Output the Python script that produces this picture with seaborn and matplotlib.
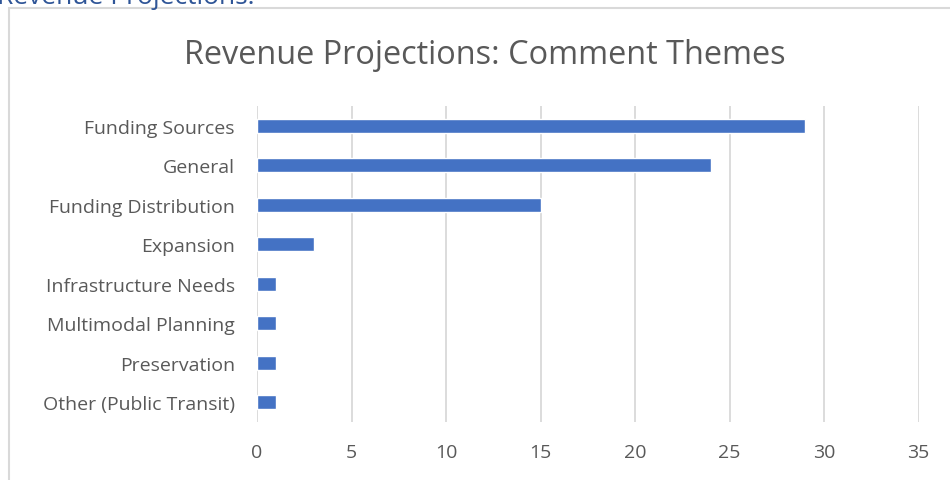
import matplotlib
matplotlib.use('Agg')
import matplotlib.pyplot as plt
import matplotlib.patches as mpatches
import pandas as pd
import seaborn as sns

# ===== Data =====
themes = ['Funding Sources', 'General', 'Funding Distribution', 'Expansion',
          'Infrastructure Needs', 'Multimodal Planning', 'Preservation',
          'Other (Public Transit)']
counts = [29, 24, 15, 3, 1, 1, 1, 1]
x_ticks = [0, 5, 10, 15, 20, 25, 30, 35]

df = pd.DataFrame({'theme': themes, 'count': counts})

sns.set_style('white')
plt.rcParams['font.family'] = ['Open Sans', 'DejaVu Sans']

fig = plt.figure(figsize=(9.5, 4.81), dpi=100)
ax = fig.add_axes([0.2705, 0.1206, 0.6965, 0.6569])

sns.barplot(data=df, x='count', y='theme', orient='h', color='#4472C4',
            width=0.36, saturation=1, ax=ax)

ax.set_xlim(0, 35)
ax.set_ylim(7.5, -0.5)
ax.set_xticks(x_ticks)
ax.xaxis.grid(True, color='#D9D9D9', linewidth=1.3)
ax.set_axisbelow(True)
for s in ax.spines.values():
    s.set_visible(False)
ax.tick_params(axis='both', length=0, colors='#595959', labelsize=14)
ax.tick_params(axis='x', pad=15)
ax.tick_params(axis='y', pad=16)
ax.set_xlabel('')
ax.set_ylabel('')

fig.text(0.51, 0.884, 'Revenue Projections: Comment Themes', ha='center',
         va='center', fontsize=23.4, color='#595959')

# clipped heading above the chart box
fig.text(-0.003, 1 - 4 / 481, 'Revenue Projections:', ha='left', va='baseline',
         fontsize=19, color='#2F5597')

# chart border (cut by the image edges)
fig.patches.append(mpatches.Rectangle((9 / 950, -0.1), 1.2, 1 - 9 / 481 + 0.1,
                                      transform=fig.transFigure, fill=False,
                                      edgecolor='#D9D9D9', linewidth=1.5))

plt.savefig('out.png', dpi=100)
print("Saved: out.png")
